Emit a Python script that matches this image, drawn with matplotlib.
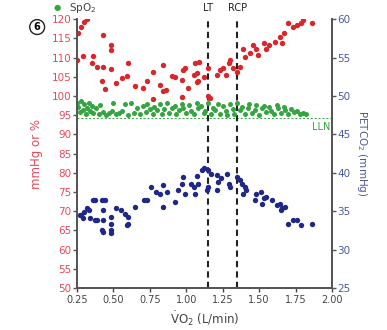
import matplotlib
matplotlib.use("Agg")
import matplotlib.pyplot as plt

# PaO2 (mmHg), eje izquierdo
red_x = [0.25, 0.26, 0.28, 0.29, 0.30, 0.32, 0.35, 0.36, 0.39, 0.42, 0.43, 0.43, 0.44,
         0.48, 0.48, 0.48, 0.52, 0.56, 0.59, 0.60, 0.65, 0.70, 0.73, 0.77, 0.77, 0.82,
         0.84, 0.84, 0.86, 0.90, 0.92, 0.97, 0.97, 0.98, 0.99, 1.01, 1.05, 1.06, 1.07,
         1.07, 1.08, 1.09, 1.12, 1.15, 1.15, 1.16, 1.21, 1.23, 1.25, 1.27, 1.29, 1.30,
         1.32, 1.35, 1.37, 1.39, 1.40, 1.44, 1.46, 1.48, 1.49, 1.53, 1.55, 1.57, 1.61,
         1.64, 1.66, 1.67, 1.70, 1.73, 1.76, 1.79, 1.80, 1.86]
red_y = [109.3, 116.5, 118.0, 110.5, 119.3, 120.0, 108.5, 110.5, 107.6, 104.0, 107.6, 116.0, 101.9,
         106.9, 113.2, 112.0, 103.4, 104.6, 105.2, 108.6, 102.7, 102.0, 104.0, 106.3, 99.1, 102.8,
         108.0, 101.3, 101.5, 105.2, 105.0, 104.1, 99.7, 106.7, 107.2, 102.0, 105.4, 108.5, 103.7,
         105.9, 104.0, 108.9, 105.0, 107.2, 100.0, 99.4, 105.4, 106.7, 107.2, 105.4, 108.5, 109.3,
         107.2, 106.3, 107.6, 112.1, 110.2, 111.2, 113.2, 112.1, 110.6, 113.7, 112.1, 113.2, 114.1,
         115.4, 113.7, 116.3, 118.9, 118.0, 118.5, 119.0, 119.7, 119.0]

# SpO2 (%), eje izquierdo
green_x = [0.25, 0.26, 0.27, 0.28, 0.29, 0.30, 0.31, 0.32, 0.33, 0.34, 0.35, 0.36, 0.38,
           0.40, 0.41, 0.43, 0.45, 0.47, 0.49, 0.50, 0.52, 0.54, 0.56, 0.58, 0.60, 0.62,
           0.64, 0.66, 0.68, 0.70, 0.72, 0.73, 0.75, 0.77, 0.78, 0.80, 0.82, 0.83, 0.85,
           0.87, 0.88, 0.90, 0.92, 0.93, 0.95, 0.97, 0.98, 1.00, 1.02, 1.03, 1.05, 1.07,
           1.08, 1.10, 1.12, 1.13, 1.15, 1.17, 1.18, 1.20, 1.22, 1.23, 1.25, 1.27, 1.28,
           1.30, 1.32, 1.33, 1.35, 1.37, 1.38, 1.40, 1.42, 1.43, 1.45, 1.47, 1.48, 1.50,
           1.52, 1.53, 1.55, 1.57, 1.58, 1.60, 1.62, 1.63, 1.65, 1.67, 1.68, 1.70, 1.72,
           1.74, 1.76, 1.78, 1.80, 1.82]
green_y = [98.3, 97.2, 95.8, 98.6, 96.4, 97.8, 95.3, 97.0, 98.2, 96.0, 97.4, 95.5, 96.8,
           95.2, 97.6, 95.9, 95.1, 95.6, 96.2, 98.3, 95.3, 95.7, 96.1, 97.9, 95.0, 98.2,
           95.6, 96.9, 95.2, 97.3, 95.9, 97.8, 96.5, 95.4, 97.1, 96.3, 97.8, 95.3, 96.7,
           98.1, 95.7, 96.9, 97.5, 95.2, 96.4, 98.0, 96.9, 95.5, 97.7, 96.2, 95.3, 98.1,
           96.8, 97.4, 95.6, 96.1, 98.2, 95.3, 97.0, 96.4, 98.0, 95.2, 97.3, 96.0, 95.1,
           97.8, 96.6, 95.4, 98.1, 96.3, 97.2, 95.2, 96.8, 97.9, 95.6, 96.3, 97.6, 95.1,
           96.9, 97.5, 95.8, 97.2, 96.1, 95.3, 97.7, 96.8, 95.7, 97.2, 96.4, 95.2, 96.6,
           95.8, 96.0, 95.3, 95.6, 95.4]

# PETCO2 (mmHg), eje derecho
blue_x = [0.27, 0.28, 0.29, 0.30, 0.32, 0.33, 0.34, 0.36, 0.37, 0.37, 0.39, 0.42, 0.42,
          0.43, 0.43, 0.43, 0.44, 0.48, 0.48, 0.48, 0.48, 0.52, 0.55, 0.58, 0.59, 0.60,
          0.60, 0.65, 0.71, 0.73, 0.76, 0.79, 0.82, 0.84, 0.84, 0.87, 0.92, 0.94, 0.97,
          0.98, 0.99, 1.03, 1.05, 1.06, 1.07, 1.08, 1.11, 1.12, 1.14, 1.15, 1.15, 1.17,
          1.21, 1.21, 1.22, 1.24, 1.28, 1.29, 1.30, 1.35, 1.37, 1.38, 1.39, 1.40, 1.41,
          1.47, 1.48, 1.51, 1.52, 1.53, 1.55, 1.59, 1.62, 1.64, 1.65, 1.66, 1.68, 1.70,
          1.73, 1.76, 1.79, 1.86]
blue_y = [34.5, 34.5, 34.1, 34.9, 35.4, 35.2, 34.1, 36.4, 33.8, 36.4, 33.8, 36.4, 32.5,
          35.1, 33.9, 32.3, 36.5, 34.3, 33.4, 32.5, 32.2, 35.4, 35.2, 34.7, 33.2, 34.3,
          33.4, 35.5, 36.4, 36.5, 38.1, 37.5, 37.3, 38.4, 35.6, 37.5, 36.2, 37.7, 38.6,
          39.5, 37.3, 38.6, 38.2, 37.3, 39.6, 38.6, 40.4, 40.6, 37.8, 40.4, 38.2, 39.9,
          39.7, 37.8, 38.8, 39.3, 39.9, 38.6, 38.2, 39.5, 39.1, 38.6, 37.3, 38.2, 37.8,
          36.4, 37.3, 37.5, 36.0, 36.7, 36.9, 36.4, 35.8, 36.0, 35.2, 35.4, 35.6, 33.4,
          33.8, 33.9, 33.2, 33.3]

lt_x = 1.15
rcp_x = 1.35
lln_y = 94.3

red = '#d8262c'
green = '#35a541'
navy = '#1f2888'
red_txt = '#e8485a'
blue_txt = '#4b5a9c'
gray = '#444444'

fig = plt.figure(figsize=(3.87, 3.30), dpi=100)
ax = fig.add_axes([0.199, 0.127, 0.659, 0.815])
ax2 = ax.twinx()

ax.scatter(red_x, red_y, s=15, color=red, zorder=3, linewidths=0)
ax.scatter(green_x, green_y, s=13, color=green, zorder=3, linewidths=0)
ax2.scatter(blue_x, blue_y, s=15, color=navy, zorder=3, linewidths=0)

# umbrales
for xv in (lt_x, rcp_x):
    ax.axvline(xv, color='#222222', linestyle=(0, (3, 2)), linewidth=1.5, zorder=2)
ax.text(lt_x, 121.5, 'LT', ha='center', va='bottom', fontsize=7, color='#222222')
ax.text(rcp_x, 121.5, 'RCP', ha='center', va='bottom', fontsize=7, color='#222222')

ax.axhline(lln_y, color=green, linestyle=(0, (2, 2)), linewidth=0.7, zorder=1)
ax.text(1.99, 93.3, 'LLN', ha='right', va='top', fontsize=7, color=green)

ax.set_xlim(0.25, 2.0)
ax.set_ylim(50, 120)
ax2.set_ylim(25, 60)
ax.set_xticks([0.25, 0.50, 0.75, 1.00, 1.25, 1.50, 1.75, 2.00])
ax.set_xticklabels(['0.25', '0.50', '0.75', '1.00', '1.25', '1.50', '1.75', '2.00'])
ax.set_yticks(range(50, 121, 5))
ax2.set_yticks(range(25, 61, 5))

for a in (ax, ax2):
    a.spines['top'].set_visible(False)
    for s in ('left', 'right', 'bottom'):
        a.spines[s].set_color('#555555')
        a.spines[s].set_linewidth(1.3)
ax.tick_params(axis='x', colors=gray, labelsize=7, length=3, width=1, pad=2)
ax.tick_params(axis='y', colors='#555555', labelcolor=red_txt, labelsize=7.5, length=3, width=1, pad=1)
ax2.tick_params(axis='y', colors='#555555', labelcolor=blue_txt, labelsize=7.5, length=3, width=1, pad=1)

ax.set_ylabel('mmHg or %', color=red_txt, fontsize=8.5, labelpad=6)
ax2.set_ylabel('PETCO$_2$ (mmHg)', color=blue_txt, fontsize=7.5, rotation=270, labelpad=13)
ax.set_xlabel(r'$\dot{\mathrm{V}}\mathrm{O}_2$ (L/min)', color=gray, fontsize=8.5, labelpad=3)

# leyenda y número de panel
fig.text(0.147, 0.978, '\u25CF', color=green, fontsize=6, ha='center', va='center')
fig.text(0.178, 0.975, 'SpO$_2$', color=gray, fontsize=7.5, ha='left', va='center')
fig.text(0.096, 0.918, '6', fontsize=7, fontweight='bold', ha='center', va='center',
         bbox=dict(boxstyle='circle,pad=0.25', fc='white', ec='#222222', lw=1))

fig.savefig('out.png', dpi=100)
